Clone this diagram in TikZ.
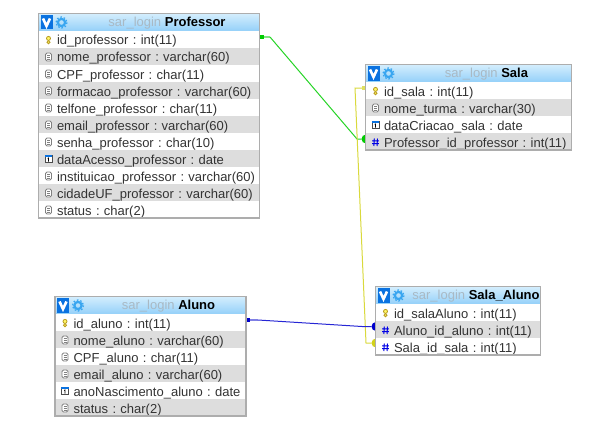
\documentclass[tikz,border=0pt]{standalone}
\usepackage{fontspec}
\setmainfont{Liberation Sans}
\definecolor{moldura}{HTML}{ADADAD}
\definecolor{cinzaLinha}{HTML}{DDDDDD}
\definecolor{azulTopo}{HTML}{D4EEFD}
\definecolor{azulBase}{HTML}{94D0F9}
\definecolor{azulIcone}{HTML}{0A72E0}
\definecolor{azulEngr}{HTML}{3AA6F0}
\definecolor{cinzaBase}{HTML}{A9B9C4}
\definecolor{verdeLig}{HTML}{00CC00}
\definecolor{amareloLig}{HTML}{D2D21A}
\definecolor{azulLig}{HTML}{0000CC}
\definecolor{ouro}{HTML}{B89A20}
\tikzset{
	linhaTab/.style={anchor=north west, inner sep=0pt, outer sep=0pt, minimum height=17pt, text height=14pt, text depth=3pt, align=left, font=\fontsize{13}{15}\selectfont\frenchspacing, text=black!80},
	topoTab/.style={anchor=north west, inner sep=0pt, outer sep=0pt, minimum height=17.5pt, top color=azulTopo, bottom color=azulBase},
	tituloTab/.style={inner sep=0pt, font=\fontsize{13}{15}\selectfont\frenchspacing},
	quad/.style={inner sep=0pt, outer sep=0pt, minimum size=3.5pt},
	bola/.style={circle, inner sep=0pt, outer sep=0pt, minimum size=9pt},
}
% icones das colunas
\newcommand{\iChave}[2]{
	\begin{scope}[shift={(#1,#2)}]
		\draw[ouro, fill=yellow!60, line width=.8pt] (0,2.2) circle (1.6);
		\draw[ouro, fill=yellow!60, line width=.8pt] (0,-1.6) circle (2);
	\end{scope}
}
\newcommand{\iCampo}[2]{
	\begin{scope}[shift={(#1,#2)}]
		\draw[black!50, fill=white, line width=.8pt, rounded corners=1.5pt] (-3,-4) rectangle (3,4);
		\draw[black!50, line width=.7pt] (-1.5,-1.5) -- (1.5,-1.5) (-1.5,0.5) -- (1.5,0.5) (-1.5,2.3) -- (1.5,2.3);
	\end{scope}
}
\newcommand{\iData}[2]{
	\begin{scope}[shift={(#1,#2)}]
		\draw[black!70, fill=white, line width=.7pt] (-3.5,-3.5) rectangle (3.5,3.5);
		\fill[azulIcone] (-3.8,-3.8) rectangle (3.8,-1.8);
		\draw[black, line width=.8pt] (-.8,-.6) -- (0,-1) -- (0,2.6);
	\end{scope}
}
\newcommand{\iChaveExt}[2]{
	\begin{scope}[shift={(#1,#2)}]
		\draw[blue!90!black, line width=1pt] (-1.2,-3.5) -- (-1.7,4) (2,-3.5) -- (1.5,4) (-3.4,-1.2) -- (3.4,-1.2) (-3.4,1.6) -- (3.4,1.6);
	\end{scope}
}
% nome, x, y, largura, titulo, colunas
\newcommand{\tabela}[6]{
	\node[topoTab, minimum width=#4pt] (#1h) at (#2,#3) {};
	\fill[azulIcone] (#2+2,#3+1.5) rectangle (#2+14,#3+16);
	\draw[white, line width=2.6pt] (#2+4.5,#3+5) -- (#2+8,#3+12.5) -- (#2+11.5,#3+5);
	\draw[azulEngr, line width=2.2pt] (#2+23,#3+9) circle (3.6);
	\draw[azulEngr, line width=1.2pt, dash pattern=on 1.6pt off 1.9pt] (#2+23,#3+9) circle (5.6);
	\node[tituloTab] (#1t) at (#2+18+#4/2,#3+9.5) {\textcolor{cinzaBase}{sar\_login} \textbf{#5}};
	\foreach \icone/\texto [count=\i] in {#6} {
		\pgfmathtruncatemacro{\impar}{mod(\i,2)}
		\pgfmathsetmacro{\yl}{#3+.5+17*\i}
		\ifnum\impar=0 \def\fundo{cinzaLinha}\else \def\fundo{white}\fi
		\node[linhaTab, fill=\fundo, text width=#4pt] (#1\i) at (#2,\yl) {\hspace*{18.5pt}\texto};
		\icone{#2+10}{\yl+9}
		\coordinate (#1fim) at (#1\i.south east);
	}
	\draw[moldura, line width=1.5pt] (#1h.north west) rectangle (#1fim);
}

\begin{document}
\begin{tikzpicture}[x=1pt, y=-1pt]
	\useasboundingbox (0,0) rectangle (607,444);
	% ligacoes
	\node[quad, fill=verdeLig] (quadVerde) at (262,37) {};
	\coordinate (dobraVerde) at (270,37);
	\coordinate (entraVerde) at (357,139);
	\node[bola, fill=verdeLig] (bolaVerde) at (366,139) {};
	\draw[verdeLig!50, line width=2pt] (quadVerde) -- (dobraVerde);
	\draw[verdeLig!85!white, line width=1pt] (dobraVerde) -- (entraVerde) -- (bolaVerde);

	\node[quad, fill=amareloLig!70!white] (quadAmarelo) at (363.5,88) {};
	\coordinate (dobraAmarelo) at (355,88);
	\coordinate (entraAmarelo) at (366,343);
	\node[bola, fill=amareloLig] (bolaAmarelo) at (376,343) {};
	\draw[amareloLig!85!white, line width=1pt] (quadAmarelo) -- (dobraAmarelo) -- (entraAmarelo) -- (bolaAmarelo);

	\node[quad, fill=azulLig] (quadAzul) at (248,320) {};
	\coordinate (dobraAzul) at (258,320);
	\coordinate (entraAzul) at (362,326.5);
	\node[bola, fill=azulLig] (bolaAzul) at (376,326.5) {};
	\draw[azulLig!50, line width=2pt] (quadAzul) -- (dobraAzul);
	\draw[azulLig!85!white, line width=1pt] (dobraAzul) -- (entraAzul) -- (bolaAzul);
	% tabelas
	\tabela{prof}{38.5}{13.5}{221}{Professor}{
		\iChave/id\_professor : int(11),
		\iCampo/nome\_professor : varchar(60),
		\iCampo/CPF\_professor : char(11),
		\iCampo/formacao\_professor : varchar(60),
		\iCampo/telfone\_professor : char(11),
		\iCampo/email\_professor : varchar(60),
		\iCampo/senha\_professor : char(10),
		\iData/dataAcesso\_professor : date,
		\iCampo/instituicao\_professor : varchar(60),
		\iCampo/cidadeUF\_professor : varchar(60),
		\iCampo/status : char(2)}
	\tabela{sala}{365.5}{64.5}{206}{Sala}{
		\iChave/id\_sala : int(11),
		\iCampo/nome\_turma : varchar(30),
		\iData/dataCriacao\_sala : date,
		\iChaveExt/Professor\_id\_professor : int(11)}
	\tabela{salaAluno}{375.5}{286.5}{165}{Sala\_Aluno}{
		\iChave/id\_salaAluno : int(11),
		\iChaveExt/Aluno\_id\_aluno : int(11),
		\iChaveExt/Sala\_id\_sala : int(11)}
	\tabela{aluno}{55}{296.5}{191}{Aluno}{
		\iChave/id\_aluno : int(11),
		\iCampo/nome\_aluno : varchar(60),
		\iCampo/CPF\_aluno : char(11),
		\iCampo/email\_aluno : varchar(60),
		\iData/anoNascimento\_aluno : date,
		\iCampo/status : char(2)}
\end{tikzpicture}
\end{document}
